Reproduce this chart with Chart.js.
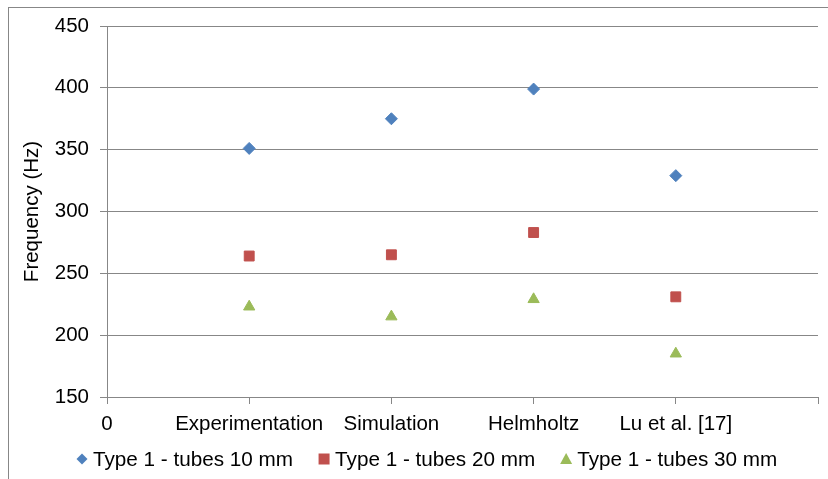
<!DOCTYPE html>
<html>
<head>
<meta charset="utf-8">
<script src="https://cdn.jsdelivr.net/npm/chart.js@4.4.1/dist/chart.umd.min.js"></script>
<style>
  html, body { margin: 0; padding: 0; background: #ffffff; }
  #wrap { width: 828px; height: 479px; position: relative; }
</style>
</head>
<body>
<div id="wrap"><canvas id="c" width="828" height="479"></canvas></div>
<script>
// Methods compared along the x axis (placed at x = 1..4)
const categories = ['Experimentation', 'Simulation', 'Helmholtz', 'Lu et al. [17]'];

// Resonance frequency (Hz) per method
const tubes10 = [351, 375, 399, 329];
const tubes20 = [264, 265, 283, 231];
const tubes30 = [223, 215, 229, 185];

const seriesNames = ['Type 1 - tubes 10 mm', 'Type 1 - tubes 20 mm', 'Type 1 - tubes 30 mm'];

// Y axis ticks
const yTicks = [150, 200, 250, 300, 350, 400, 450];

const FONT = 'Liberation Sans, Arial, sans-serif';
const FS = 20.5;
const LEGEND_FS = 20.7;
const GRID = '#878787';

function toPoints(values) {
  return values.map((v, i) => ({ x: i + 1, y: v }));
}

// Thin frame around the figure
const framePlugin = {
  id: 'frame',
  beforeDraw(chart) {
    const ctx = chart.ctx;
    ctx.save();
    ctx.strokeStyle = GRID;
    ctx.lineWidth = 1;
    ctx.strokeRect(8.5, 7.5, 2000, 2000);
    ctx.restore();
  }
};

// Legend row drawn under the x axis
const legendRow = {
  id: 'legendRow',
  afterDraw(chart) {
    const ctx = chart.ctx;
    const y = 459;
    let x = 77;
    ctx.save();
    ctx.font = LEGEND_FS + 'px ' + FONT;
    ctx.textBaseline = 'middle';
    chart.data.datasets.forEach((ds) => {
      const cx = x + 5;
      ctx.fillStyle = ds.backgroundColor;
      ctx.beginPath();
      if (ds.pointStyle === 'rectRot') {
        ctx.moveTo(cx, y - 5.5); ctx.lineTo(cx + 5.5, y); ctx.lineTo(cx, y + 5.5); ctx.lineTo(cx - 5.5, y);
      } else if (ds.pointStyle === 'rect') {
        ctx.rect(cx - 5.5, y - 5.5, 11, 11);
      } else {
        ctx.moveTo(cx, y - 6); ctx.lineTo(cx + 6, y + 5); ctx.lineTo(cx - 6, y + 5);
      }
      ctx.closePath();
      ctx.fill();
      ctx.fillStyle = '#000000';
      const tx = x + 16;
      ctx.fillText(ds.label, tx, y + 1);
      x = tx + ctx.measureText(ds.label).width + 26;
    });
    ctx.restore();
  }
};

const datasets = [
  { label: seriesNames[0], data: toPoints(tubes10), pointStyle: 'rectRot', pointRadius: 6,
    backgroundColor: '#4F81BD', borderColor: '#4F81BD', borderWidth: 1 },
  { label: seriesNames[1], data: toPoints(tubes20), pointStyle: 'rect', pointRadius: 7,
    backgroundColor: '#C0504D', borderColor: '#C0504D', borderWidth: 1 },
  { label: seriesNames[2], data: toPoints(tubes30), pointStyle: 'triangle', pointRadius: 6.5,
    backgroundColor: '#9BBB59', borderColor: '#9BBB59', borderWidth: 1 }
];

new Chart(document.getElementById('c'), {
  type: 'scatter',
  data: { datasets },
  plugins: [framePlugin, legendRow],
  options: {
    responsive: false,
    animation: false,
    devicePixelRatio: 1,
    layout: { padding: { left: 0, right: 10, top: 26, bottom: 0 } },
    plugins: { legend: { display: false }, tooltip: { enabled: false } },
    scales: {
      x: {
        type: 'linear',
        min: 0,
        max: categories.length + 1,
        afterBuildTicks(scale) {
          const t = [];
          for (let i = 0; i <= categories.length + 1; i++) t.push({ value: i });
          scale.ticks = t;
        },
        afterFit(scale) { scale.height = 82; },
        grid: { drawOnChartArea: false, drawTicks: true, tickLength: 7, color: GRID },
        border: { display: true, color: GRID, width: 1 },
        ticks: {
          padding: 8,
          color: '#000000',
          maxRotation: 0,
          autoSkip: false,
          font: { family: FONT, size: FS },
          callback(value) {
            if (value === 0) return '0';
            return categories[value - 1] || '';
          }
        }
      },
      y: {
        type: 'linear',
        min: yTicks[0],
        max: yTicks[yTicks.length - 1],
        afterBuildTicks(scale) { scale.ticks = yTicks.map(v => ({ value: v })); },
        afterFit(scale) { scale.width = 107; },
        grid: { color: GRID, drawTicks: true, tickLength: 7 },
        border: { display: true, color: GRID, width: 1 },
        ticks: { padding: 11, color: '#000000', font: { family: FONT, size: FS } },
        title: {
          display: true,
          text: 'Frequency (Hz)',
          color: '#000000',
          font: { family: FONT, size: FS },
          padding: { top: 20, bottom: 0 }
        }
      }
    }
  }
});
</script>
</body>
</html>
